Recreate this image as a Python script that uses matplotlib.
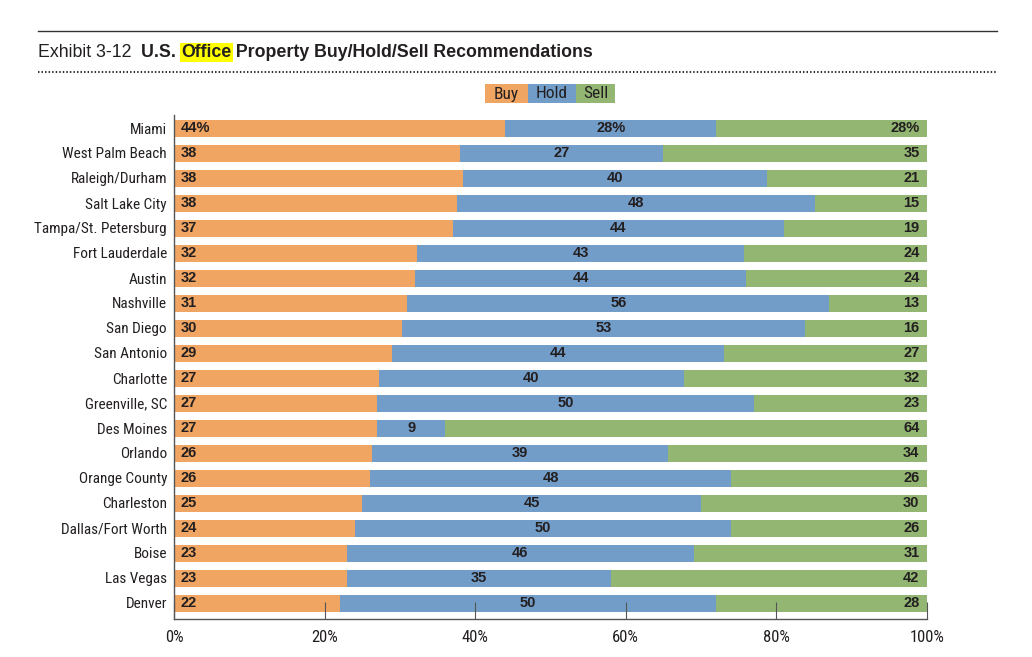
import numpy as np
import matplotlib
matplotlib.use("Agg")
import matplotlib.pyplot as plt
from matplotlib.patches import Rectangle
from matplotlib.lines import Line2D
from matplotlib import font_manager as fm

# data
cities = ["Miami", "West Palm Beach", "Raleigh/Durham", "Salt Lake City",
          "Tampa/St. Petersburg", "Fort Lauderdale", "Austin", "Nashville",
          "San Diego", "San Antonio", "Charlotte", "Greenville, SC",
          "Des Moines", "Orlando", "Orange County", "Charleston",
          "Dallas/Fort Worth", "Boise", "Las Vegas", "Denver"]
buy = [44, 38, 38, 38, 37, 32, 32, 31, 30, 29, 27, 27, 27, 26, 26, 25, 24, 23, 23, 22]
hold = [28, 27, 40, 48, 44, 43, 44, 56, 53, 44, 40, 50, 9, 39, 48, 45, 50, 46, 35, 50]
sell = [28, 35, 21, 15, 19, 24, 24, 13, 16, 27, 32, 23, 64, 34, 26, 30, 26, 31, 42, 28]
x_ticks = [0, 20, 40, 60, 80, 100]

c_buy = "#F0A562"
c_hold = "#729DC9"
c_sell = "#93B773"
c_text = "#231F20"

# pick a condensed face close to Helvetica Condensed
names = {f.name for f in fm.fontManager.ttflist}
cond = "Liberation Sans"
for n in ["Roboto Condensed", "Liberation Sans Narrow", "Archivo Narrow", "IBM Plex Sans Condensed"]:
    if n in names:
        cond = n
        break

fig = plt.figure(figsize=(10.32, 6.57), dpi=100)
ax = fig.add_axes([174 / 1032, 1 - 619 / 657, (927 - 174) / 1032, (619 - 115) / 657])

# normalise each row so the stack fills 100%
vals = np.array([buy, hold, sell], dtype=float)
shares = vals / vals.sum(axis=0) * 100
y = np.arange(len(cities))
h = 0.68

ax.barh(y, shares[0], height=h, color=c_buy)
ax.barh(y, shares[1], left=shares[0], height=h, color=c_hold)
ax.barh(y, shares[2], left=shares[0] + shares[1], height=h, color=c_sell)

lbl = dict(va="center", fontsize=10.5, fontweight="bold", color=c_text, family="Liberation Sans")
for i in range(len(cities)):
    suf = "%" if i == 0 else ""
    ax.text(0.9, i, f"{buy[i]}{suf}", ha="left", **lbl)
    ax.text(shares[0][i] + shares[1][i] / 2, i, f"{hold[i]}{suf}", ha="center", **lbl)
    ax.text(99.0, i, f"{sell[i]}{suf}", ha="right", **lbl)

ax.set_xlim(0, 100)
ax.set_ylim(len(cities) - 1 + 0.64, -0.52)
ax.set_yticks(y)
ax.set_yticklabels(cities, fontsize=11, color=c_text, family=cond)
ax.tick_params(axis="y", length=0, pad=5)
ax.set_xticks(x_ticks)
ax.set_xticklabels([f"{t}%" for t in x_ticks], fontsize=12, color=c_text, family=cond)
ax.tick_params(axis="x", direction="in", length=12, width=0.8, color="#555555", pad=8)
for s in ["top", "right"]:
    ax.spines[s].set_visible(False)
for s in ["left", "bottom"]:
    ax.spines[s].set_color("#555555")
    ax.spines[s].set_linewidth(1.0)

# title rule lines
fig.add_artist(Line2D([38 / 1032, 997 / 1032], [1 - 31 / 657] * 2, color="#333333", lw=1.0))
fig.add_artist(Line2D([38 / 1032, 997 / 1032], [1 - 72 / 657] * 2, color="#333333", lw=1.5,
                      linestyle=(0, (0.7, 1.0))))

# title made of pieces
renderer = fig.canvas.get_renderer()
ty = 1 - 57 / 657
tx = 38 / 1032
parts = [("Exhibit 3-12  ", "normal", None),
         ("U.S. ", "bold", None),
         ("Office", "bold", "#FFFF00"),
         (" Property Buy/Hold/Sell Recommendations", "bold", None)]
for txt, wt, bg in parts:
    t = fig.text(tx, ty, txt, fontsize=12.75, fontweight=wt, color=c_text,
                 family="Liberation Sans", va="baseline", ha="left")
    if bg:
        t.set_bbox(dict(facecolor=bg, edgecolor="none", pad=1))
    bb = t.get_window_extent(renderer)
    tx = bb.x1 / fig.bbox.width

# legend boxes
leg = [("Buy", c_buy, 485, 528), ("Hold", c_hold, 528, 576), ("Sell", c_sell, 576, 615)]
for lab, col, x0, x1 in leg:
    fig.add_artist(Rectangle((x0 / 1032, 1 - 103 / 657), (x1 - x0) / 1032, 19 / 657,
                             transform=fig.transFigure, facecolor=col, edgecolor="none"))
    fig.text((x0 + x1) / 2 / 1032, 1 - 94 / 657, lab, ha="center", va="center",
             fontsize=12.5, color=c_text, family=cond)

fig.savefig("out.png", dpi=100)
